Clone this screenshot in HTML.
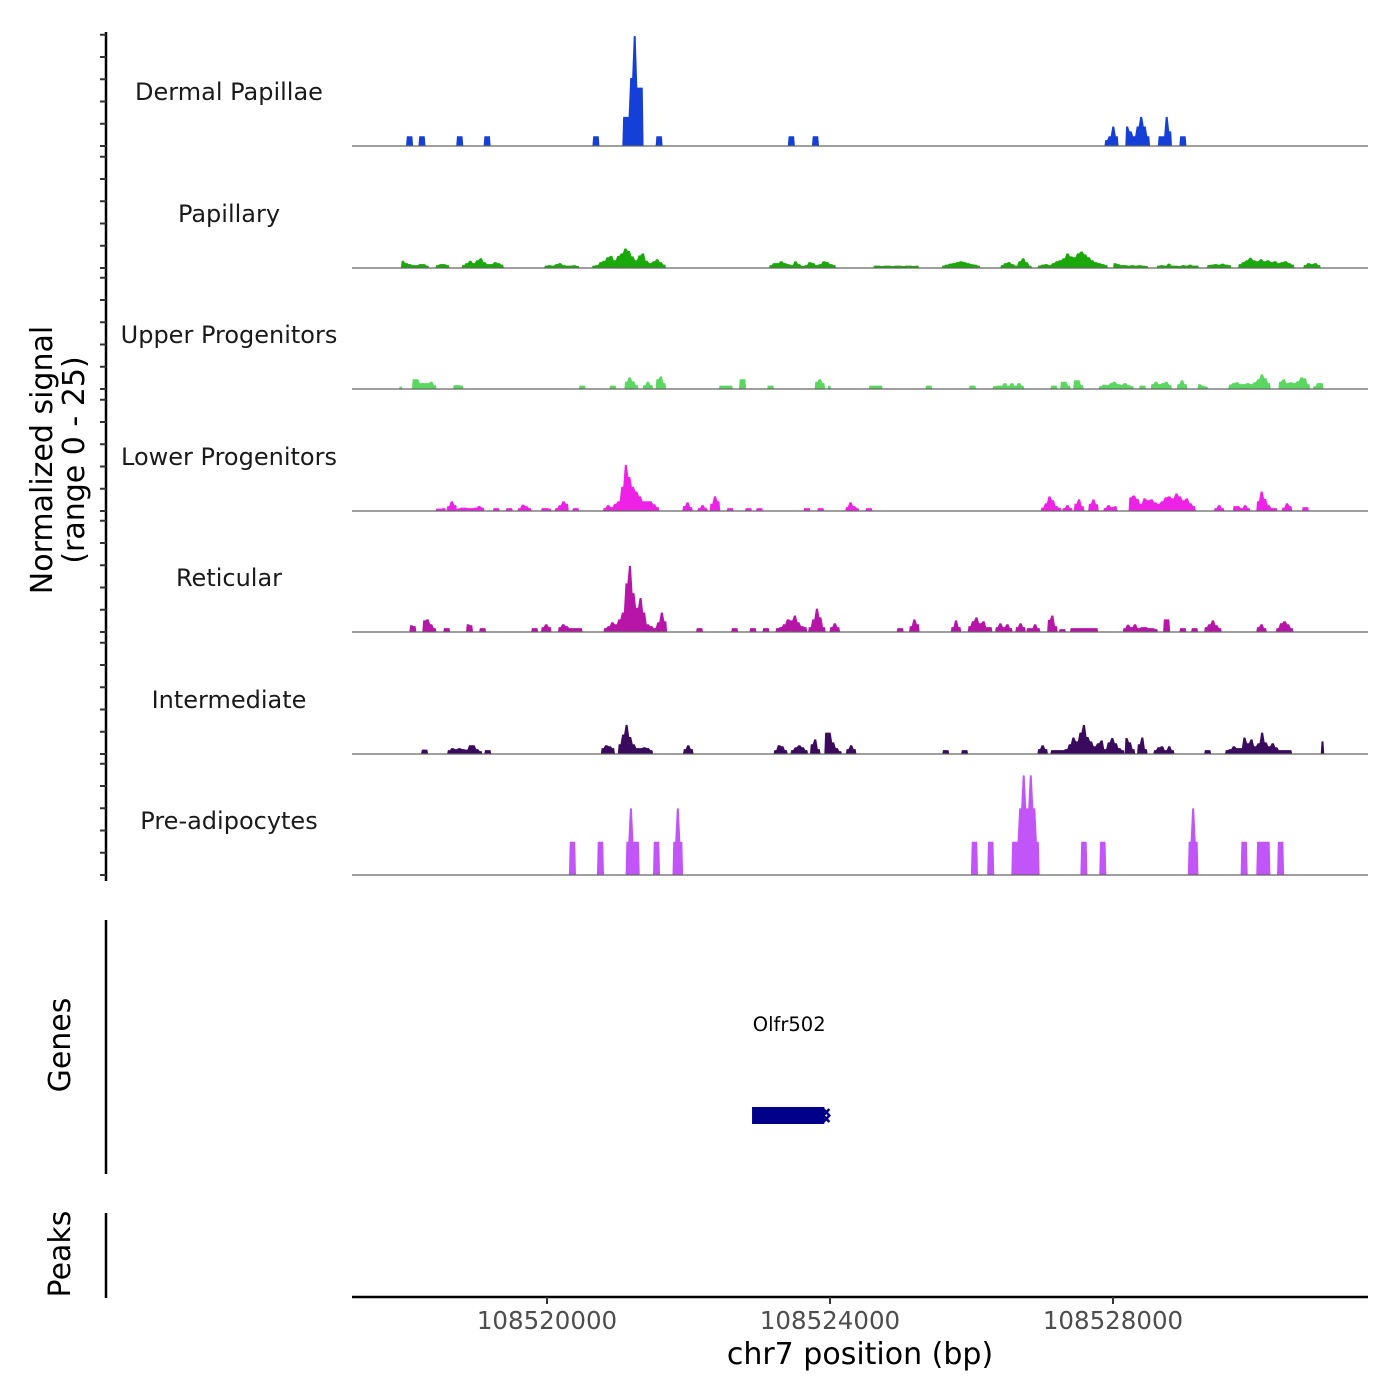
<!DOCTYPE html>
<html><head><meta charset="utf-8"><style>
html,body{margin:0;padding:0;background:#fff;}
svg{display:block;font-family:"DejaVu Sans","Liberation Sans",sans-serif;}
</style></head><body>
<svg id="chart" width="1400" height="1400" viewBox="0 0 1400 1400" xmlns="http://www.w3.org/2000/svg">
<rect width="1400" height="1400" fill="#fff"/>
<g id="tracks"></g>
<g id="axes"></g>
</svg>
<script>
// ---- data (bp offsets from 108517000; values in normalized signal, 50bp bins) ----
const BIN = 50;
const trackNames = ["Dermal Papillae","Papillary","Upper Progenitors","Lower Progenitors","Reticular","Intermediate","Pre-adipocytes"];
const trackColors = ["#1540d8","#1aa80a","#5ad760","#ee22e6","#b615a8","#3a0a5e","#c155f7"];
const xTicks = [108520000,108524000,108528000];
const xTickLabels = ["108520000","108524000","108528000"];
const geneName = "Olfr502";
const geneStart = 108522870, geneEnd = 108523920;

const dpStarts = [1008,1183,1717,2104,3642,4065,4535,6404,6745,10879,11174,11634,11938];
const dpVals = [[2,2],[2,2],[2,2],[2,2],[2,2],[6,6,14,22.6,12,12],[2,2],[2,2],[2,2],[1.2,2,4,2],[4,3,2,4,6,4,2],[2,2,6,3],[2,2]];

const papStarts = [935,1423,1791,2960,3633,6137,7610,8577,9406,9931,11000,11616,12325,12767,13688];
const papVals = [[1.5,1,0.8,0.6,0.6,0.8,0.8,0.5],[0.6,0.8,0.8,0.6],[0.6,1,1.5,1,1.6,2,1.2,0.8,0.8,1.2,1,0.7],[0.5,0.6,0.5,0.8,1,0.6,0.5,0.5,0.6,0.4],[0.5,0.6,1.2,1.5,2.2,2.5,1.6,2.5,3,4,3.5,2.4,1.6,2.6,3,1.5,1,1.4,1.8,1.2,0.7],[0.6,1,1,1.4,1,0.8,0.6,1.4,0.8,0.4,0.6,1.2,1,0.6,0.8,1.4,1.2,0.8,0.6],[0.5,0.5,0.4,0.5,0.5,0.4,0.5,0.5,0.4,0.5,0.5,0.4,0.5],[0.5,0.7,0.9,1,1.2,1.4,1.2,1,0.8,0.7,0.5],[0.6,1,1.2,0.8,0.5,1.4,2,1.2,0.5],[0.5,0.7,0.8,0.6,1,1.4,1.6,2,3,2.4,2.2,3,3.4,2.8,2.2,1.6,1.2,1,0.8,0.6],[1,0.8,0.6,0.6,0.5,0.6,0.5,0.6,0.5,0.4],[0.5,0.6,0.5,0.9,0.5,0.5,0.4,0.6,0.5,0.7,0.5,0.5],[0.6,0.7,0.8,0.7,0.9,0.7,0.6],[0.8,1.2,1.6,2.1,1.6,1.4,1.8,1.4,1.6,1.2,1.4,1,1.2,1.4,1,0.7],[0.6,1,0.8,1,0.6]];

const upStarts = [907,1091,1671,3448,3881,4093,4351,4535,5428,5714,6110,6782,6966,7546,8347,8964,9296,10115,10253,10437,10797,11367,11533,11901,12196,12629,13338,13826];
const upVals = [[0.5],[2,2,1.2,1.2,1.2,1.5,0.8],[0.8,0.8,0.7],[0.7,0.7],[0.7,0.7],[1.5,2.4,1.6,0.8],[0.8,1.5,0.8],[2,2.6,1.2],[0.7,0.7,0.7,0.7],[2,2],[0.7,0.7],[1.5,2,1.2],[0.7],[0.7,0.7,0.7,0.7],[0.7,0.7],[0.7,0.7],[0.6,0.7,0.7,1.2,0.7,1.2,0.7,1.2,0.7],[0.7,0.7],[1.5,1.5,0.7],[1.8,1.8,0.8],[0.6,0.9,0.8,1.2,1.5,1,0.9,1.2,0.8,0.6],[0.7,0.7],[1,1.5,1,1.2,1.5,0.8],[1,1.8,1],[1,0.7,0.5],[0.9,1.2,1.4,1,1,1.2,1,1.4,2,3,2.2,1.2],[1.5,2,1.2,1.4,1.2,1.6,2.4,2.2,1],[0.6,1.2,1.2]];

const lpStarts = [1423,1579,1717,2233,2417,2583,2914,3108,3356,3789,4912,5124,5299,5539,5797,5953,6625,6818,7214,7500,9977,10281,10446,10649,10861,11220,12426,12693,13025,13384,13670];
const lpVals = [[0.5,0.5,0.6],[1,2,1.2],[0.5,0.7,0.7,0.6,0.6,0.7,1,0.7],[0.6,0.6],[0.6,0.6],[0.6,1.3,1,0.6],[0.6,0.6,0.5],[0.6,1.2,2,1.5],[0.6,0.6],[0.6,1.2,0.8,1.5,2,5,9.5,7,5,4,3,2,2,2,1.4,0.8],[1,1.8,0.8],[0.6,1.2,0.6],[1.5,3,2],[0.6,0.6],[0.6,0.6],[0.6,0.6],[0.6,0.6],[0.6,0.6],[0.8,1.8,1,0.6],[0.6,0.6],[0.7,1.6,3,2.2,1,0.6],[0.6,1.2,0.6],[1.5,2.4,1],[1.5,2.4,1.4],[0.6,1.2,0.8,1],[2.8,3.2,2.5,1.5,2.6,2.2,2.4,1.8,1.5,2,2.8,3,2.6,3.6,3,2.2,2.6,1.6,1],[0.6,1.2,0.6],[1,1,0.6,1.2,0.6],[2,4,2.5,1.2,0.6,0.6],[0.7,1.6,1],[0.8,0.8]];

const retStarts = [1054,1238,1533,1855,2040,2776,2914,3154,3798,5106,5603,5861,6045,6229,6690,6993,7942,8117,8706,8946,9333,9618,9774,10069,10235,10391,11137,11708,11938,12103,12288,13025,13301];
const retVals = [[1.4,1.2],[2.4,2.6,1.6,0.8],[0.8,0.8],[1.6,1.4],[0.8,0.8],[0.8,0.8],[1,1.6,1],[1,1.6,1.2,0.8,0.8,0.8,0.8],[0.8,1.2,2,1.6,2.6,4,10,13.6,8,5,7,4,1.6,1.2,0.8,2,4,2.2],[0.8,0.8],[0.8,0.8],[0.8,0.8],[0.8,0.8],[0.8,1,1.6,2.6,2.4,3.4,2,1.2,1],[1,2.6,4.8,3,1],[1,1.8,1],[0.8,0.8],[1.2,2.6,1.6],[1,2.4,1],[1.2,2.2,3,1.8,2.2,1,1],[1,1.8,1,1.6,0.8],[1,1.8,1],[0.8,0.8,1.6,0.8],[2.5,3.4,1.2],[0.6,0.6],[0.8,0.8,0.8,0.8,0.8,0.8,0.8,0.8],[0.8,1.5,1,1.6,0.8,1,1,0.8,0.8,0.6],[2.6,2.6],[0.8,0.8],[0.8,0.8],[1,1.6,2.4,1.4,0.8],[1,1.6,0.8],[0.8,1.8,2.2,1.6,0.8]];

const intStarts = [1220,1588,2113,3761,4001,4922,6202,6441,6717,6920,7224,8586,8853,9931,10115,11165,11340,11570,12288,12583,13936];
const intVals = [[0.9,0.9],[0.8,1.2,1,1.2,1,0.9,1.8,1.8,1,0.6],[0.8,0.8],[1.2,1.8,1.6,1.2],[2,4,6,3.5,2,1.2,1.2,1.4,1.2,0.8],[1,1.8,1],[0.8,1.8,1.6,0.8],[0.8,1.4,1.8,1.4,0.8],[2,3,1],[4.4,4.4,2.4,1.2,0.6],[1,1.8,1],[0.8,0.8],[0.8,0.8],[1,1.8,1],[0.8,0.8,0.8,0.8,1,2,3.4,2.6,4.4,6,3.5,2.6,1.6,2.2,2.8,1,2.4,3.3,2.2,1.2,0.8],[3.3,2.4,1],[2,3.4,1],[0.8,1.4,1.6,0.8,1.6,0.8],[0.8,0.8],[0.8,1,1.6,1.2,1.2,3.4,2.2,3,1.6,2.2,4.4,2.4,1.6,2.2,1.4,0.8,0.8,0.8,0.8],[2.6]];

const preStarts = [3310,3706,4111,4498,4774,8992,9222,9563,10539,10806,12058,12804,13025,13319];
const preVals = [[6.85,6.85],[6.85,6.85],[6.85,13.7,6.85,6.85],[6.85,6.85],[6.85,13.7,6.85],[6.85,6.85],[6.85,6.85],[6.85,6.85,13.7,20.5,13.7,20.5,13.7,6.85],[6.85,6.85],[6.85,6.85],[6.85,13.7,6.85],[6.85,6.85],[6.85,6.85,6.85,6.85],[6.85,6.85]];

const allStarts = [dpStarts,papStarts,upStarts,lpStarts,retStarts,intStarts,preStarts];
const allVals = [dpVals,papVals,upVals,lpVals,retVals,intVals,preVals];

// ---- scales ----
const ORIGIN = 108517000;
const X0 = 352, X1 = 1368, BP0 = 108517244, PXPERBP = 0.07075;
function xScale(bp){ return X0 + (bp - BP0) * PXPERBP; }
const baselines = [146,268,389,511,632,754,875];
const PXPERUNIT = 4.86;
function yScale(track, v){ return baselines[track] - v * PXPERUNIT; }

const NS = "http://www.w3.org/2000/svg";
function mk(tag, attrs, parent){ const e=document.createElementNS(NS,tag); for(const k in attrs) e.setAttribute(k,attrs[k]); parent.appendChild(e); return e; }
const tracks = document.getElementById('tracks');
const axes = document.getElementById('axes');

for (let t=0;t<7;t++){
  const g = mk('g',{},tracks);
  
  
  const lbl = mk('text',{x:229,y:baselines[t]-46,'text-anchor':'middle','font-size':'24',fill:'#1a1a1a'},g);
  lbl.textContent = trackNames[t];
  
  
  const starts = allStarts[t], vals = allVals[t];
  for (let i=0;i<starts.length;i++){
    const s = ORIGIN + starts[i];
    const vs = vals[i];
    const e = 0.8;
    let d = 'M'+xScale(s).toFixed(2)+','+baselines[t];
    for (let j=0;j<vs.length;j++){
      const a = xScale(s + j*BIN), b = xScale(s + (j+1)*BIN);
      const y = yScale(t, vs[j]).toFixed(2);
      d += ' L'+(a+e).toFixed(2)+','+y+' L'+(b-e).toFixed(2)+','+y;
    }
    d += ' L'+xScale(s + vs.length*BIN).toFixed(2)+','+baselines[t]+' Z';
    const p = mk('path',{d:d,fill:trackColors[t]},g);
    
    
  }
  const bl = mk('line',{x1:X0,x2:X1,y1:baselines[t],y2:baselines[t],stroke:'#666','stroke-width':'1.2'},g);
  
  
}

// left signal axis
const yl = mk('line',{x1:106,x2:106,y1:32,y2:881,stroke:'#000','stroke-width':'2.5'},axes);


for (let t=0;t<7;t++){
  for (let k=0;k<=5;k++){
    const y = baselines[t] - k*22.25;
    const tk = mk('line',{x1:100,x2:106,y1:y,y2:y,stroke:'#333','stroke-width':'2'},axes);
    
    
  }
}
const yt = mk('text',{transform:'translate(52,460) rotate(-90)','text-anchor':'middle','font-size':'30',fill:'#000'},axes);


const ts1 = mk('tspan',{x:0,dy:0},yt); ts1.textContent='Normalized signal';
const ts2 = mk('tspan',{x:0,dy:32},yt); ts2.textContent='(range 0 - 25)';

// genes panel
const gl = mk('line',{x1:106,x2:106,y1:920,y2:1174,stroke:'#000','stroke-width':'2.5'},axes);


const gt = mk('text',{transform:'translate(70,1045) rotate(-90)','text-anchor':'middle','font-size':'30',fill:'#000'},axes);
gt.textContent='Genes';


const gx0 = xScale(geneStart), gx1 = xScale(geneEnd);
const gr = mk('rect',{x:gx0+2,y:1107,width:gx1-gx0-2,height:17,fill:'#00008b'},axes);


const ga = mk('path',{d:'M'+(gx1-1)+',1109 L'+(gx1+5)+',1115.5 L'+(gx1-1)+',1122 M'+(gx1+5)+',1109 L'+(gx1-1)+',1115.5 L'+(gx1+5)+',1122',stroke:'#00008b','stroke-width':'2.5',fill:'none'},axes);


const gn = mk('text',{x:(gx0+gx1)/2+2,y:1031,'text-anchor':'middle','font-size':'19.5',fill:'#000'},axes);
gn.textContent = geneName;



// peaks panel
const pl = mk('line',{x1:106,x2:106,y1:1213,y2:1298,stroke:'#000','stroke-width':'2.5'},axes);


const pt = mk('text',{transform:'translate(70,1254) rotate(-90)','text-anchor':'middle','font-size':'30',fill:'#000'},axes);
pt.textContent='Peaks';



// x axis
const xl = mk('line',{x1:X0,x2:X1,y1:1297,y2:1297,stroke:'#000','stroke-width':'2.5'},axes);


for (let i=0;i<xTicks.length;i++){
  const x = xScale(xTicks[i]);
  const tk = mk('line',{x1:x,x2:x,y1:1297,y2:1304,stroke:'#333','stroke-width':'2'},axes);
  
  
  const tl = mk('text',{x:x,y:1329,'text-anchor':'middle','font-size':'24.5',fill:'#4d4d4d'},axes);
  tl.textContent = xTickLabels[i];
  
  
}
const xt = mk('text',{x:860,y:1364,'text-anchor':'middle','font-size':'30',fill:'#000'},axes);
xt.textContent='chr7 position (bp)';


</script>
</body></html>
